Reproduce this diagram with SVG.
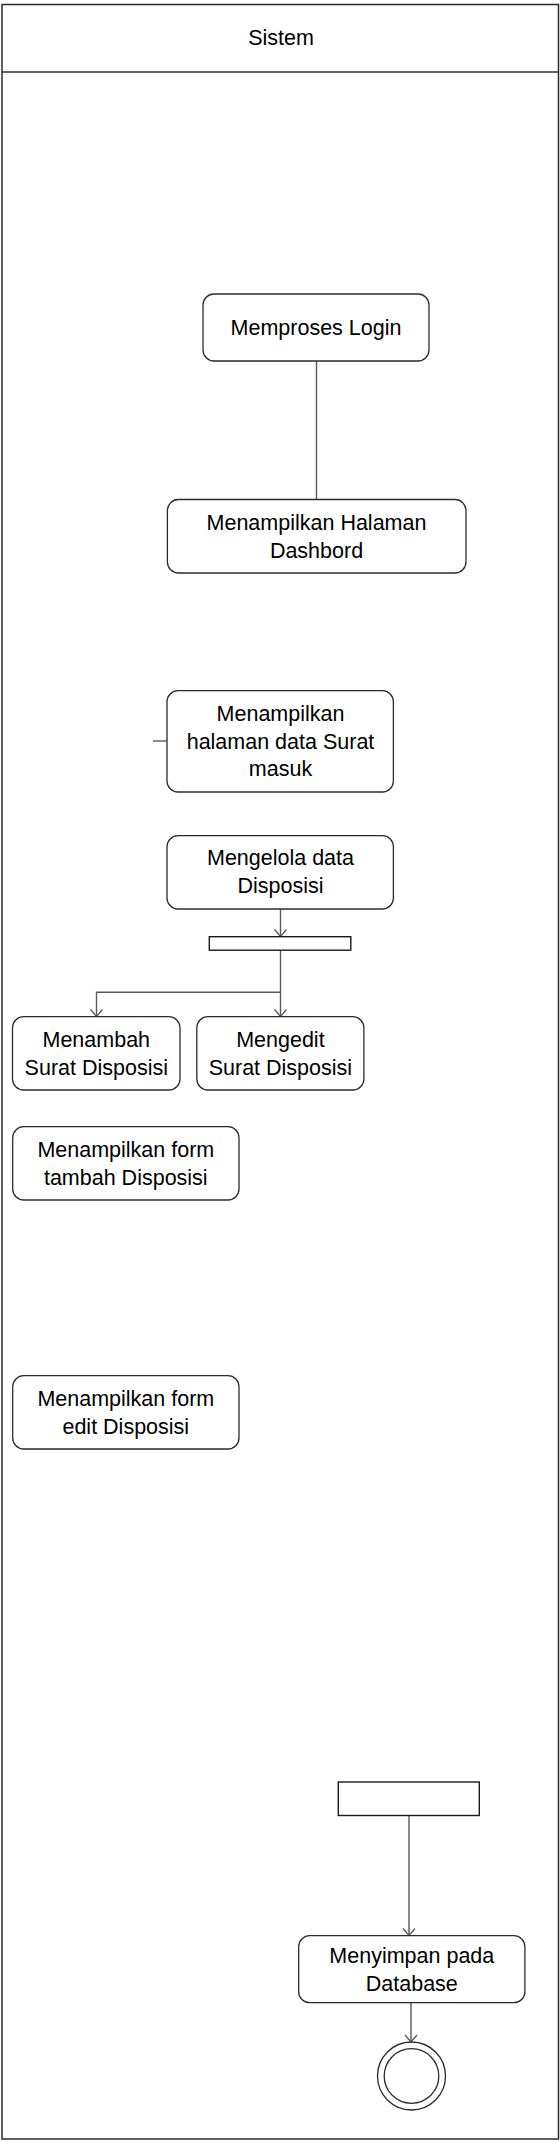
<svg xmlns="http://www.w3.org/2000/svg" width="560" height="2148" viewBox="0 0 560 2148">
<style>
.box{fill:#fff;stroke:#2b2b2b;stroke-width:1.3}
.bar{fill:#fff;stroke:#1a1a1a;stroke-width:1.4}
.lane{fill:#fff;stroke:#2b2b2b;stroke-width:1.5}
.con{fill:none;stroke:#595959;stroke-width:1.4}
.t{font-family:"Liberation Sans",Arial,sans-serif;font-size:21.5px;fill:#000;text-anchor:middle}
</style>
<defs>
<marker id="arr" markerUnits="userSpaceOnUse" markerWidth="16" markerHeight="16" refX="8" refY="7" orient="auto">
<path d="M1,1 L8,7 L1,13" fill="none" stroke="#595959" stroke-width="1.3"/>
</marker>
</defs>
<rect width="560" height="2148" fill="#fff"/>
<g id="lane">
<rect class="lane" x="2" y="4.5" width="556.5" height="2134.5"/>
<line x1="2" y1="72" x2="558.5" y2="72" stroke="#2b2b2b" stroke-width="1.5"/>
<text class="t" x="281" y="45">Sistem</text>
</g>
<g id="connectors">
<line class="con" x1="316.5" y1="361" x2="316.5" y2="499.5"/>
<line class="con" x1="153" y1="741" x2="167" y2="741"/>
<line class="con" x1="280.5" y1="909" x2="280.5" y2="936.5" marker-end="url(#arr)"/>
<line class="con" x1="280.5" y1="950" x2="280.5" y2="1016.5" marker-end="url(#arr)"/>
<polyline class="con" points="280.5,992.3 96.5,992.3 96.5,1016.5" marker-end="url(#arr)"/>
<line class="con" x1="409" y1="1815.5" x2="409" y2="1935.5" marker-end="url(#arr)"/>
<line class="con" x1="411" y1="2002.7" x2="411" y2="2042" marker-end="url(#arr)"/>
</g>
<g id="memproses-login">
<rect class="box" x="203" y="294" width="226" height="67" rx="11"/>
<text class="t" x="316" y="335">Memproses Login</text>
</g>
<g id="halaman-dashbord">
<rect class="box" x="167.4" y="499.5" width="298.6" height="73.5" rx="11"/>
<text class="t" x="316.5" y="529.5">Menampilkan Halaman</text>
<text class="t" x="316.5" y="557.5">Dashbord</text>
</g>
<g id="halaman-surat-masuk">
<rect class="box" x="167" y="690.7" width="226.4" height="101.3" rx="11"/>
<text class="t" x="280.5" y="720.7">Menampilkan</text>
<text class="t" x="280.5" y="748.5">halaman data Surat</text>
<text class="t" x="280.5" y="776.3">masuk</text>
</g>
<g id="mengelola-disposisi">
<rect class="box" x="167" y="835.7" width="226.4" height="73.3" rx="11"/>
<text class="t" x="280.5" y="865.3">Mengelola data</text>
<text class="t" x="280.5" y="893.3">Disposisi</text>
</g>
<g id="fork-bar">
<rect class="bar" x="209.3" y="936.7" width="141.5" height="13.5"/>
</g>
<g id="menambah-disposisi">
<rect class="box" x="12.5" y="1016.7" width="167.5" height="73.3" rx="11"/>
<text class="t" x="96.3" y="1046.5">Menambah</text>
<text class="t" x="96.3" y="1074.5">Surat Disposisi</text>
</g>
<g id="mengedit-disposisi">
<rect class="box" x="196.8" y="1016.7" width="167.1" height="73.3" rx="11"/>
<text class="t" x="280.4" y="1046.5">Mengedit</text>
<text class="t" x="280.4" y="1074.5">Surat Disposisi</text>
</g>
<g id="form-tambah">
<rect class="box" x="12.7" y="1126.7" width="226.3" height="73.3" rx="11"/>
<text class="t" x="125.8" y="1156.8">Menampilkan form</text>
<text class="t" x="125.8" y="1184.8">tambah Disposisi</text>
</g>
<g id="form-edit">
<rect class="box" x="12.7" y="1375.7" width="226.3" height="73.3" rx="11"/>
<text class="t" x="125.8" y="1405.8">Menampilkan form</text>
<text class="t" x="125.8" y="1433.8">edit Disposisi</text>
</g>
<g id="join-bar">
<rect class="bar" x="338.3" y="1782" width="141" height="33.5"/>
</g>
<g id="menyimpan-database">
<rect class="box" x="298.7" y="1935.7" width="226.2" height="67" rx="11"/>
<text class="t" x="411.8" y="1962.7">Menyimpan pada</text>
<text class="t" x="411.8" y="1990.7">Database</text>
</g>
<g id="final-node">
<circle cx="411.5" cy="2076" r="34" fill="#fff" stroke="#2b2b2b" stroke-width="1.3"/>
<circle cx="411.5" cy="2076" r="27.3" fill="#fff" stroke="#2b2b2b" stroke-width="1.3"/>
</g>
</svg>
